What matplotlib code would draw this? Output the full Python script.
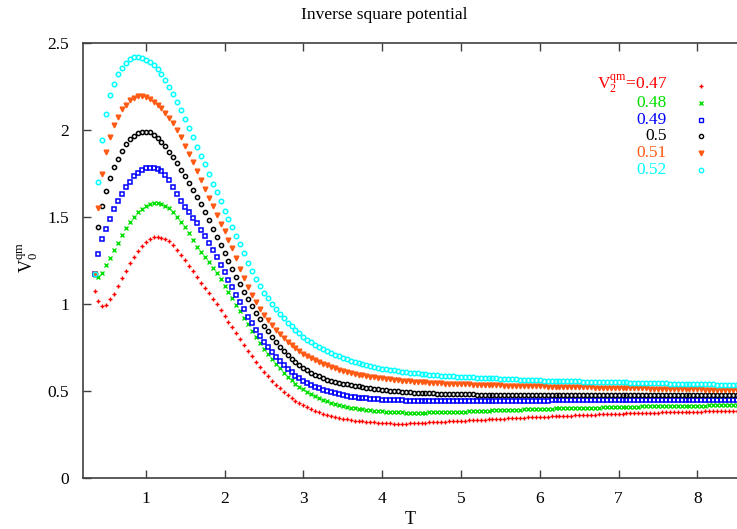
import numpy as np
import matplotlib
matplotlib.use('Agg')
import matplotlib.pyplot as plt

plt.rcParams['font.family'] = ['Liberation Serif', 'DejaVu Serif']
plt.rcParams['mathtext.fontset'] = 'custom'
plt.rcParams['mathtext.rm'] = 'Liberation Serif'
plt.rcParams['mathtext.it'] = 'Liberation Serif:italic'

# sampling grid in T
T = np.round(np.arange(0.35, 8.501, 0.05), 2)

# V0^qm for each V2^qm value
v052 = [1.17, 1.70, 1.94, 2.09, 2.20, 2.265, 2.32, 2.358, 2.387, 2.406,
        2.417, 2.42, 2.416, 2.404, 2.39, 2.374, 2.35, 2.32, 2.29, 2.25,
        2.207, 2.159, 2.113, 2.065, 2.01, 1.96, 1.905, 1.852, 1.804, 1.747,
        1.692, 1.644, 1.59, 1.536, 1.487, 1.44, 1.392, 1.345, 1.292, 1.236,
        1.187, 1.144, 1.104, 1.066, 1.032, 1.000, 0.970, 0.942, 0.917, 0.892,
        0.871, 0.849, 0.831, 0.812, 0.796, 0.780, 0.767, 0.753, 0.741, 0.729,
        0.718, 0.708, 0.699, 0.690, 0.682, 0.674, 0.668, 0.661, 0.655, 0.649,
        0.644, 0.639, 0.634, 0.629, 0.626, 0.622, 0.619, 0.615, 0.612, 0.609,
        0.606, 0.603, 0.601, 0.598, 0.597, 0.594, 0.593, 0.590, 0.589, 0.587,
        0.586, 0.584, 0.583, 0.582, 0.580, 0.579, 0.578, 0.577, 0.576, 0.575,
        0.574, 0.573, 0.572, 0.571, 0.570, 0.569, 0.568, 0.567, 0.566, 0.565,
        0.564, 0.563, 0.562, 0.561, 0.560, 0.559, 0.559, 0.558, 0.557, 0.557,
        0.556, 0.556, 0.555, 0.555, 0.554, 0.554, 0.553, 0.553, 0.552, 0.552,
        0.551, 0.551, 0.550, 0.550, 0.549, 0.549, 0.548, 0.548, 0.547, 0.547,
        0.546, 0.546, 0.545, 0.545, 0.544, 0.544, 0.543, 0.543, 0.542, 0.542,
        0.541, 0.541, 0.540, 0.540, 0.539, 0.539, 0.538, 0.538, 0.537, 0.537,
        0.536, 0.536, 0.535, 0.535]

v051 = [1.17, 1.55, 1.745, 1.875, 1.958, 2.026, 2.076, 2.12, 2.146, 2.17,
        2.185, 2.195, 2.198, 2.192, 2.178, 2.161, 2.145, 2.124, 2.099, 2.068,
        2.038, 2.0, 1.958, 1.91, 1.863, 1.816, 1.767, 1.713, 1.659, 1.612,
        1.566, 1.513, 1.46, 1.418, 1.37, 1.320, 1.262, 1.204, 1.148, 1.097,
        1.052, 1.010, 0.971, 0.937, 0.906, 0.877, 0.850, 0.826, 0.802, 0.782,
        0.762, 0.745, 0.729, 0.714, 0.701, 0.687, 0.676, 0.666, 0.655, 0.647,
        0.638, 0.630, 0.623, 0.616, 0.611, 0.604, 0.600, 0.594, 0.590, 0.585,
        0.582, 0.579, 0.575, 0.572, 0.569, 0.567, 0.565, 0.562, 0.560, 0.557,
        0.556, 0.554, 0.552, 0.551, 0.549, 0.548, 0.546, 0.546, 0.544, 0.543,
        0.543, 0.541, 0.540, 0.539, 0.538, 0.538, 0.537, 0.536, 0.535, 0.535,
        0.533, 0.533, 0.533, 0.532, 0.531, 0.530, 0.530, 0.530, 0.529, 0.528,
        0.528, 0.527, 0.527, 0.526, 0.526, 0.525, 0.525, 0.524, 0.524, 0.524,
        0.523, 0.523, 0.522, 0.522, 0.521, 0.521, 0.521, 0.520, 0.520, 0.519,
        0.519, 0.518, 0.518, 0.518, 0.517, 0.517, 0.516, 0.516, 0.515, 0.515,
        0.515, 0.514, 0.514, 0.513, 0.513, 0.512, 0.512, 0.512, 0.511, 0.511,
        0.510, 0.510, 0.509, 0.509, 0.509, 0.508, 0.508, 0.507, 0.507, 0.506,
        0.506, 0.506, 0.505, 0.505]

v050 = [1.17, 1.44, 1.565, 1.648, 1.724, 1.788, 1.835, 1.882, 1.918, 1.948,
        1.968, 1.982, 1.989, 1.991, 1.987, 1.972, 1.953, 1.931, 1.906, 1.876,
        1.843, 1.808, 1.772, 1.735, 1.697, 1.658, 1.617, 1.575, 1.529, 1.483,
        1.431, 1.387, 1.341, 1.295, 1.249, 1.204, 1.158, 1.114, 1.070, 1.028,
        0.987, 0.948, 0.911, 0.876, 0.842, 0.811, 0.782, 0.754, 0.729, 0.705,
        0.684, 0.665, 0.648, 0.632, 0.618, 0.605, 0.594, 0.584, 0.574, 0.566,
        0.559, 0.552, 0.547, 0.542, 0.538, 0.534, 0.530, 0.526, 0.522, 0.519,
        0.516, 0.513, 0.510, 0.507, 0.504, 0.502, 0.500, 0.498, 0.496, 0.494,
        0.493, 0.491, 0.490, 0.489, 0.488, 0.487, 0.486, 0.485, 0.484, 0.484,
        0.483, 0.482, 0.482, 0.481, 0.481, 0.480, 0.480, 0.479, 0.479, 0.479,
        0.478, 0.478, 0.478, 0.478, 0.477, 0.477, 0.477, 0.477, 0.477, 0.477,
        0.477, 0.477, 0.477, 0.477, 0.477, 0.477, 0.478, 0.478, 0.478, 0.478,
        0.478, 0.478, 0.478, 0.478, 0.478, 0.478, 0.478, 0.478, 0.478, 0.478,
        0.478, 0.478, 0.478, 0.478, 0.478, 0.478, 0.478, 0.478, 0.478, 0.478,
        0.478, 0.478, 0.478, 0.478, 0.478, 0.478, 0.478, 0.478, 0.478, 0.478,
        0.478, 0.478, 0.478, 0.478, 0.478, 0.478, 0.478, 0.478, 0.478, 0.478,
        0.478, 0.478, 0.478, 0.478]

v049 = [1.17, 1.29, 1.375, 1.432, 1.49, 1.544, 1.592, 1.635, 1.672, 1.703,
        1.735, 1.755, 1.77, 1.779, 1.783, 1.782, 1.775, 1.762, 1.744, 1.71,
        1.672, 1.632, 1.590, 1.557, 1.528, 1.497, 1.463, 1.428, 1.391, 1.352,
        1.311, 1.270, 1.227, 1.184, 1.140, 1.096, 1.053, 1.010, 0.969, 0.928,
        0.889, 0.852, 0.817, 0.783, 0.752, 0.723, 0.695, 0.670, 0.647, 0.626,
        0.607, 0.589, 0.574, 0.559, 0.546, 0.535, 0.524, 0.515, 0.506, 0.499,
        0.492, 0.486, 0.481, 0.476, 0.472, 0.468, 0.465, 0.462, 0.460, 0.457,
        0.455, 0.454, 0.452, 0.451, 0.449, 0.448, 0.447, 0.447, 0.446, 0.445,
        0.445, 0.444, 0.443, 0.443, 0.443, 0.442, 0.442, 0.442, 0.442, 0.442,
        0.442, 0.442, 0.442, 0.442, 0.442, 0.443, 0.443, 0.443, 0.443, 0.443,
        0.443, 0.444, 0.444, 0.444, 0.444, 0.444, 0.444, 0.445, 0.445, 0.445,
        0.445, 0.445, 0.445, 0.445, 0.445, 0.445, 0.446, 0.446, 0.446, 0.446,
        0.446, 0.446, 0.446, 0.446, 0.446, 0.446, 0.446, 0.446, 0.446, 0.446,
        0.446, 0.446, 0.446, 0.446, 0.446, 0.446, 0.446, 0.446, 0.446, 0.446,
        0.446, 0.446, 0.446, 0.446, 0.446, 0.446, 0.446, 0.446, 0.446, 0.446,
        0.446, 0.446, 0.446, 0.446, 0.446, 0.446, 0.446, 0.446, 0.446, 0.446,
        0.446, 0.446, 0.446, 0.446]

v048 = [1.165, 1.153, 1.18, 1.222, 1.265, 1.308, 1.352, 1.398, 1.435, 1.47,
        1.50, 1.528, 1.548, 1.565, 1.575, 1.579, 1.578, 1.572, 1.562, 1.549,
        1.526, 1.50, 1.472, 1.442, 1.41, 1.37, 1.33, 1.299, 1.271, 1.241,
        1.209, 1.176, 1.142, 1.106, 1.070, 1.033, 0.995, 0.957, 0.920, 0.883,
        0.847, 0.811, 0.777, 0.744, 0.713, 0.683, 0.656, 0.630, 0.605, 0.583,
        0.562, 0.543, 0.525, 0.509, 0.495, 0.481, 0.469, 0.459, 0.449, 0.440,
        0.433, 0.426, 0.420, 0.414, 0.409, 0.405, 0.401, 0.397, 0.394, 0.391,
        0.389, 0.387, 0.385, 0.383, 0.382, 0.380, 0.379, 0.378, 0.377, 0.376,
        0.376, 0.375, 0.375, 0.376, 0.376, 0.377, 0.377, 0.378, 0.379, 0.379,
        0.380, 0.381, 0.382, 0.382, 0.382, 0.383, 0.384, 0.385, 0.385, 0.386,
        0.387, 0.388, 0.389, 0.390, 0.390, 0.391, 0.392, 0.393, 0.393, 0.394,
        0.395, 0.396, 0.396, 0.397, 0.398, 0.398, 0.399, 0.400, 0.400, 0.401,
        0.401, 0.402, 0.402, 0.403, 0.403, 0.404, 0.404, 0.405, 0.405, 0.406,
        0.406, 0.407, 0.407, 0.408, 0.408, 0.409, 0.409, 0.410, 0.410, 0.411,
        0.411, 0.412, 0.412, 0.413, 0.413, 0.413, 0.414, 0.414, 0.414, 0.415,
        0.415, 0.415, 0.416, 0.416, 0.416, 0.416, 0.417, 0.417, 0.417, 0.417,
        0.418, 0.418, 0.418, 0.418]

v047 = [1.075, 1.02, 0.991, 0.995, 1.027, 1.06, 1.103, 1.148, 1.19, 1.234,
        1.27, 1.303, 1.333, 1.358, 1.375, 1.383, 1.384, 1.382, 1.375, 1.363,
        1.338, 1.31, 1.284, 1.251, 1.221, 1.19, 1.155, 1.123, 1.092, 1.061,
        1.031, 0.999, 0.966, 0.933, 0.899, 0.865, 0.831, 0.797, 0.764, 0.731,
        0.699, 0.669, 0.640, 0.612, 0.585, 0.560, 0.537, 0.516, 0.495, 0.477,
        0.460, 0.444, 0.430, 0.417, 0.406, 0.395, 0.385, 0.377, 0.369, 0.362,
        0.356, 0.350, 0.345, 0.341, 0.337, 0.333, 0.330, 0.327, 0.325, 0.323,
        0.321, 0.319, 0.317, 0.316, 0.315, 0.314, 0.313, 0.312, 0.313, 0.313,
        0.314, 0.315, 0.316, 0.317, 0.318, 0.319, 0.320, 0.322, 0.323, 0.324,
        0.325, 0.326, 0.327, 0.329, 0.330, 0.331, 0.332, 0.333, 0.334, 0.335,
        0.337, 0.338, 0.339, 0.340, 0.341, 0.342, 0.344, 0.345, 0.346, 0.347,
        0.348, 0.349, 0.350, 0.351, 0.352, 0.353, 0.354, 0.355, 0.356, 0.357,
        0.358, 0.359, 0.360, 0.361, 0.362, 0.363, 0.364, 0.364, 0.365, 0.366,
        0.367, 0.368, 0.368, 0.369, 0.370, 0.371, 0.371, 0.372, 0.373, 0.374,
        0.374, 0.375, 0.376, 0.376, 0.377, 0.377, 0.378, 0.379, 0.379, 0.380,
        0.380, 0.381, 0.381, 0.382, 0.382, 0.383, 0.383, 0.384, 0.384, 0.385,
        0.385, 0.386, 0.386, 0.386]

labels = ['V$_2^{\\rm qm}$=0.47', '0.48', '0.49', '0.5', '0.51', '0.52']
series = [v047, v048, v049, v050, v051, v052]
colors = ['#ff0000', '#00e000', '#0000ff', '#000000', '#ff5a14', '#00ffff']
markers = ['+', 'x', 's', 'o', 'v', 'o']
sizes = [3.4, 3.2, 3.0, 3.0, 3.4, 3.2]
filled = [True, True, False, False, True, False]

yticks = [0, 0.5, 1, 1.5, 2, 2.5]
ytick_labels = ['0', '0.5', '1', '1.5', '2', '2.5']
xticks = [1, 2, 3, 4, 5, 6, 7, 8]

fig = plt.figure(figsize=(7.37, 5.29), dpi=100)
ax = fig.add_axes([0.1122, 0.0964, 0.8875, 0.8223])

for v, c, m, s, f in zip(series, colors, markers, sizes, filled):
    if f:
        ax.plot(T, v, linestyle='none', marker=m, color=c, markersize=s,
                markeredgewidth=1.0)
    else:
        ax.plot(T, v, linestyle='none', marker=m, color=c, markersize=s,
                markeredgewidth=1.1, markerfacecolor='none')

ax.set_xlim(0.2, 8.5)
ax.set_ylim(0, 2.5)
ax.set_xticks(xticks)
ax.set_yticks(yticks)
ax.set_yticklabels(ytick_labels)
ax.tick_params(direction='in', length=6, width=1, labelsize=12.5,
               top=True, right=False, colors='#404040', labelcolor='black')
ax.tick_params(axis='x', pad=9)
ax.tick_params(axis='y', pad=10)
for sp in ['left', 'bottom', 'top']:
    ax.spines[sp].set_color('#404040')
    ax.spines[sp].set_linewidth(1.2)
ax.spines['right'].set_visible(False)

fig.text(410 / 737, 1 - 520 / 529, 'T', ha='center', va='center', fontsize=13)
fig.text(28 / 737, 1 - 258 / 529, 'V$_0^{\\rm qm}$', ha='center', va='center',
         rotation=90, fontsize=13)
fig.text(0.521, 1 - 15 / 529, 'Inverse square potential', ha='center',
         va='center', fontsize=12.5)

# key, drawn by hand like gnuplot's
for i, (lab, c, m, s, f) in enumerate(zip(labels, colors, markers, sizes, filled)):
    yk = 1 - (86 + i * 16.8) / 529
    if i == 0:
        yk = 1 - 84.5 / 529
    fig.text(667 / 737, yk, lab, color=c, ha='right', va='center',
             fontsize=12.5)
    ax.plot([700.5 / 737], [1 - (86 + i * 16.8) / 529],
            transform=fig.transFigure, clip_on=False,
            linestyle='none', marker=m, color=c, markersize=s,
            markeredgewidth=1.0, markerfacecolor=c if f else 'none')

fig.savefig('out.png', dpi=100)
